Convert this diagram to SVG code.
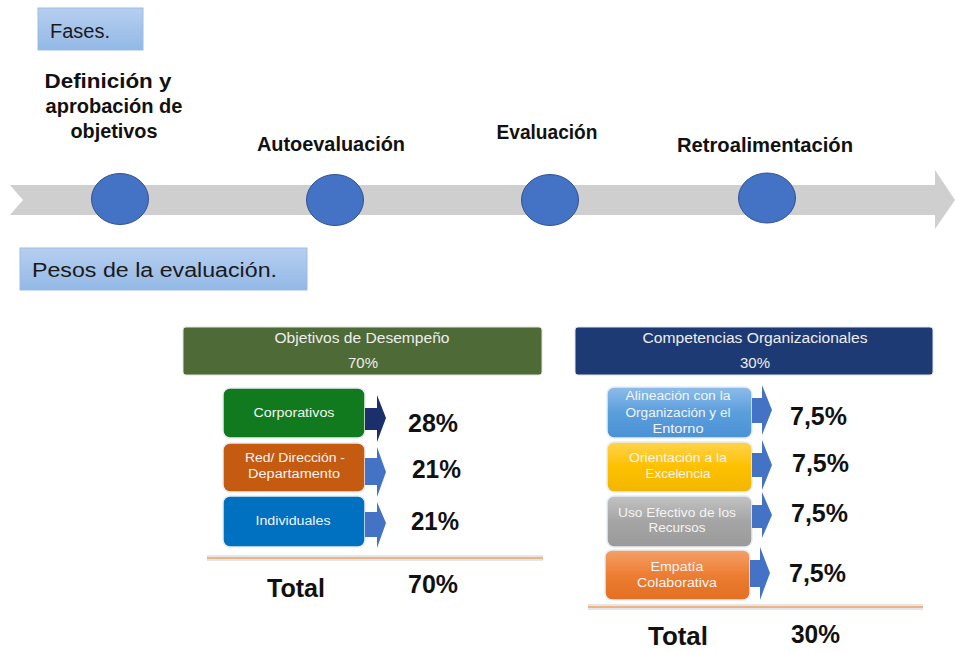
<svg xmlns="http://www.w3.org/2000/svg" width="955" height="652" viewBox="0 0 955 652">
<defs>
<linearGradient id="lbl" x1="0" y1="0" x2="0" y2="1"><stop offset="0" stop-color="#b6cff0"/><stop offset="1" stop-color="#93b8e6"/></linearGradient>
<linearGradient id="gAl" x1="0" y1="0" x2="0" y2="1"><stop offset="0" stop-color="#8dbde9"/><stop offset="0.5" stop-color="#5a9edc"/><stop offset="1" stop-color="#4a92d6"/></linearGradient>
<linearGradient id="gOr" x1="0" y1="0" x2="0" y2="1"><stop offset="0" stop-color="#ffd44d"/><stop offset="0.5" stop-color="#ffc000"/><stop offset="1" stop-color="#f2b600"/></linearGradient>
<linearGradient id="gUs" x1="0" y1="0" x2="0" y2="1"><stop offset="0" stop-color="#c2c2c2"/><stop offset="0.5" stop-color="#a5a5a5"/><stop offset="1" stop-color="#9a9a9a"/></linearGradient>
<linearGradient id="gEm" x1="0" y1="0" x2="0" y2="1"><stop offset="0" stop-color="#f4a06a"/><stop offset="0.5" stop-color="#ed7d31"/><stop offset="1" stop-color="#e36f22"/></linearGradient>
</defs>
<style>
.lbl{fill:url(#lbl);stroke:#9dbbe2;stroke-width:1}
.lt{font-family:"Liberation Sans",Arial,sans-serif;font-size:20px;fill:#1a1a1a}
.ph{font-family:"Liberation Sans",Arial,sans-serif;font-weight:bold;font-size:20px;fill:#111;text-anchor:middle}
.dot{fill:#4472c4;stroke:#2f528f;stroke-width:1}
.hd{font-family:"Liberation Sans",Arial,sans-serif;font-size:14px;fill:#eeeeee;text-anchor:middle}
.bx{stroke:#e8eef5;stroke-width:1.5}
.bt{font-family:"Liberation Sans",Arial,sans-serif;font-size:12.5px;fill:#f4f4f4;text-anchor:middle}
.pc{font-family:"Liberation Sans",Arial,sans-serif;font-weight:bold;font-size:25px;fill:#111}
.arw{fill:#4472c4}
.sep{fill:#e3e6ee}
.sepl{stroke:#f2b27c;stroke-width:2}
</style>

<g id="fases-label">
<rect class="lbl" x="38" y="8" width="105" height="42"/>
<text class="lt" x="50" y="38">Fases.</text>
</g>

<g id="timeline">
<polygon points="10,185 935,185 935,170 955,200 935,229 935,215 10,215 23,200" fill="#cfcfcf"/>
</g>

<g id="fase-1">
<ellipse class="dot" cx="120" cy="199" rx="28.5" ry="25.5"/>
<text class="ph" x="108" y="88" textLength="127" lengthAdjust="spacingAndGlyphs">Definición y</text>
<text class="ph" x="114" y="113" textLength="137" lengthAdjust="spacingAndGlyphs">aprobación de</text>
<text class="ph" x="114" y="138" textLength="87" lengthAdjust="spacingAndGlyphs">objetivos</text>
</g>
<g id="fase-2">
<ellipse class="dot" cx="335" cy="200" rx="28.5" ry="25.5"/>
<text class="ph" x="331" y="151" textLength="148" lengthAdjust="spacingAndGlyphs">Autoevaluación</text>
</g>
<g id="fase-3">
<ellipse class="dot" cx="550" cy="200" rx="28.5" ry="25.5"/>
<text class="ph" x="547" y="139" textLength="101" lengthAdjust="spacingAndGlyphs">Evaluación</text>
</g>
<g id="fase-4">
<ellipse class="dot" cx="767" cy="198" rx="28.5" ry="25"/>
<text class="ph" x="765" y="152" textLength="176" lengthAdjust="spacingAndGlyphs">Retroalimentación</text>
</g>

<g id="pesos-label">
<rect class="lbl" x="20" y="248" width="287" height="42"/>
<text class="lt" x="32" y="277" textLength="245" lengthAdjust="spacingAndGlyphs">Pesos de la evaluación.</text>
</g>

<g id="objetivos-header">
<rect x="183" y="327" width="359" height="48" rx="3" fill="#4e6a36" stroke="#dfe4d8" stroke-width="1"/>
<text class="hd" x="362" y="343" textLength="175" lengthAdjust="spacingAndGlyphs">Objetivos de Desempeño</text>
<text class="hd" x="363" y="368" textLength="30" lengthAdjust="spacingAndGlyphs">70%</text>
</g>

<g id="competencias-header">
<rect x="575" y="327" width="358" height="48" rx="3" fill="#1e3a74" stroke="#dde2ea" stroke-width="1"/>
<text class="hd" x="755" y="343" textLength="225" lengthAdjust="spacingAndGlyphs">Competencias Organizacionales</text>
<text class="hd" x="755" y="368" textLength="30" lengthAdjust="spacingAndGlyphs">30%</text>
</g>

<g id="corporativos">
<rect class="bx" x="223" y="388" width="142" height="50" rx="7" fill="#11791e"/>
<text class="bt" x="294" y="417" textLength="81" lengthAdjust="spacingAndGlyphs">Corporativos</text>
<text class="pc" x="408" y="432" textLength="50" lengthAdjust="spacingAndGlyphs">28%</text>
</g>
<g id="red-direccion">
<rect class="bx" x="223" y="443" width="142" height="49" rx="7" fill="#c55a11"/>
<text class="bt" x="295" y="462" textLength="100" lengthAdjust="spacingAndGlyphs">Red/ Dirección -</text>
<text class="bt" x="294" y="478" textLength="92" lengthAdjust="spacingAndGlyphs">Departamento</text>
<text class="pc" x="412" y="478" textLength="49" lengthAdjust="spacingAndGlyphs">21%</text>
</g>
<g id="individuales">
<rect class="bx" x="223" y="496" width="142" height="51" rx="7" fill="#0070c0"/>
<text class="bt" x="293" y="525" textLength="75" lengthAdjust="spacingAndGlyphs">Individuales</text>
<text class="pc" x="411" y="530" textLength="48" lengthAdjust="spacingAndGlyphs">21%</text>
</g>

<g id="total-objetivos">
<rect class="sep" x="207" y="555" width="336" height="6"/>
<line class="sepl" x1="207" y1="558" x2="543" y2="558"/>
<text class="pc" x="267" y="597" font-size="24" textLength="58" lengthAdjust="spacingAndGlyphs">Total</text>
<text class="pc" x="408" y="593" textLength="50" lengthAdjust="spacingAndGlyphs">70%</text>
</g>

<g id="alineacion">
<rect class="bx" x="607" y="387" width="145" height="51" rx="7" fill="url(#gAl)"/>
<text class="bt" x="678" y="400" textLength="105" lengthAdjust="spacingAndGlyphs">Alineación con la</text>
<text class="bt" x="678" y="417" textLength="105" lengthAdjust="spacingAndGlyphs">Organización y el</text>
<text class="bt" x="678" y="433" textLength="51" lengthAdjust="spacingAndGlyphs">Entorno</text>
<text class="pc" x="790" y="425" textLength="57" lengthAdjust="spacingAndGlyphs">7,5%</text>
</g>
<g id="orientacion">
<rect class="bx" x="607" y="442" width="145" height="50" rx="7" fill="url(#gOr)"/>
<text class="bt" x="678" y="462" textLength="98" lengthAdjust="spacingAndGlyphs">Orientación a la</text>
<text class="bt" x="678" y="478" textLength="65" lengthAdjust="spacingAndGlyphs">Excelencia</text>
<text class="pc" x="792" y="472" textLength="57" lengthAdjust="spacingAndGlyphs">7,5%</text>
</g>
<g id="uso-efectivo">
<rect class="bx" x="607" y="496" width="145" height="51" rx="7" fill="url(#gUs)"/>
<text class="bt" x="677" y="517" textLength="118" lengthAdjust="spacingAndGlyphs">Uso Efectivo de los</text>
<text class="bt" x="677" y="532" textLength="57" lengthAdjust="spacingAndGlyphs">Recursos</text>
<text class="pc" x="791" y="522" textLength="57" lengthAdjust="spacingAndGlyphs">7,5%</text>
</g>
<g id="empatia">
<rect class="bx" x="605" y="550" width="145" height="50" rx="7" fill="url(#gEm)"/>
<text class="bt" x="677" y="571" textLength="53" lengthAdjust="spacingAndGlyphs">Empatía</text>
<text class="bt" x="677" y="587" textLength="80" lengthAdjust="spacingAndGlyphs">Colaborativa</text>
<text class="pc" x="789" y="582" textLength="57" lengthAdjust="spacingAndGlyphs">7,5%</text>
</g>

<g id="total-competencias">
<rect class="sep" x="588" y="604" width="335" height="6"/>
<line class="sepl" x1="588" y1="607" x2="923" y2="607"/>
<text class="pc" x="648" y="645" font-size="24" textLength="60" lengthAdjust="spacingAndGlyphs">Total</text>
<text class="pc" x="791" y="643" textLength="49" lengthAdjust="spacingAndGlyphs">30%</text>
</g>

<g id="connectors">
<polygon points="365,408 377,408 377,395 386,418 377,442 377,430 365,430" fill="#1b2f6b"/>
<polygon class="arw" points="365,458 377,458 377,447 386,472 377,497 377,485 365,485"/>
<polygon class="arw" points="365,512 377,512 377,502 386,523 377,548 377,537 365,537"/>
<polygon class="arw" points="752,398 762,398 762,385 772,410 762,435 762,423 752,423"/>
<polygon class="arw" points="752,453 762,453 762,440 772,465 762,490 762,477 752,477"/>
<polygon class="arw" points="752,505 762,505 762,492 772,515 762,538 762,528 752,528"/>
<polygon class="arw" points="750,560 760,560 760,547 770,573 760,600 760,587 750,587"/>
</g>
</svg>
